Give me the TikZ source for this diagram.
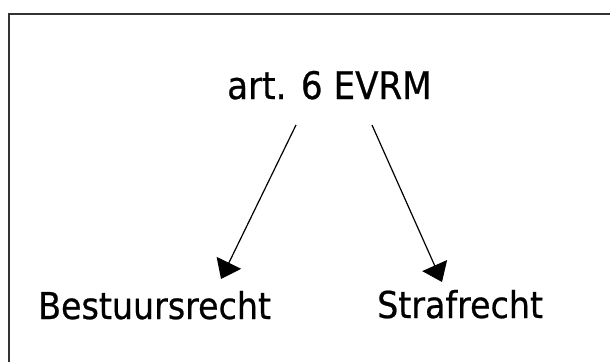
\documentclass[tikz,border=0pt]{standalone}
\usepackage{fontspec}
\setmainfont[FakeBold=0.6]{DejaVu Sans Condensed}
\usetikzlibrary{arrows.meta}
\begin{document}
\begin{tikzpicture}[x=1pt,y=-1pt,
  frame/.style={line width=2pt,draw=black!80},
  arr/.style={line width=1.2pt,-{Triangle[length=18pt,width=27pt]}},
  lbl/.style={inner sep=0pt,font=\fontsize{37}{40}\selectfont}]
\useasboundingbox (0,0) rectangle (610,362);
\fill[white] (0,0) rectangle (610,362);
% frame: only the top and left edges fall within the page
\draw[frame] (8.5,362) -- (8.5,13.5) -- (610,13.5);
\node[lbl,font=\fontsize{38}{42}\selectfont,anchor=base west] (top) at (227,99) {art. 6 EVRM};
\node[lbl,anchor=base west] (left) at (38,319) {Bestuursrecht};
\node[lbl,anchor=base west] (right) at (377,318) {Strafrecht};
\coordinate (s1) at (296,125);
\coordinate (e1) at (221,279);
\coordinate (s2) at (372,125);
\coordinate (e2) at (442,282);
\draw[arr] (s1) -- (e1);
\draw[arr] (s2) -- (e2);
\end{tikzpicture}
\end{document}
